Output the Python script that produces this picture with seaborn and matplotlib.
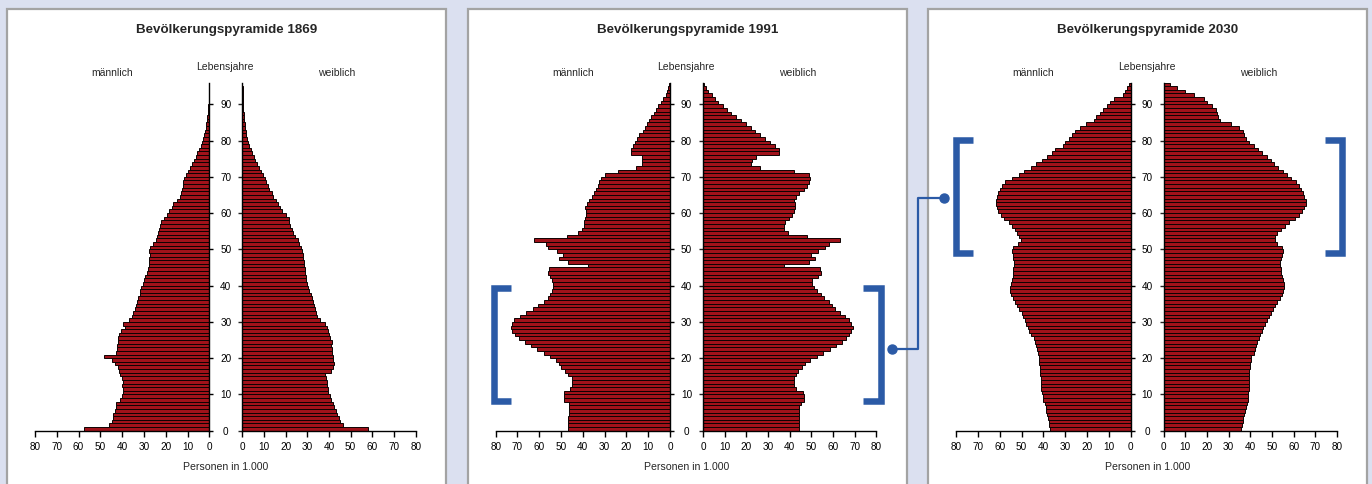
import numpy as np
import matplotlib
matplotlib.use("Agg")
import matplotlib.pyplot as plt
from matplotlib.patches import Rectangle
from matplotlib.lines import Line2D
import seaborn as sns

# Altersjahre 0..95, Werte in 1.000 Personen
ages = np.arange(96)

m1869 = [57.5, 46, 44.5, 44, 44, 43.5, 43, 43, 41, 40,
         39.5, 39.5, 40, 39.5, 40, 41, 41.5, 42, 43.5, 44.5,
         48.5, 43, 42.5, 42.5, 42, 42, 41.5, 40.5, 38.5, 39.5,
         37, 35.5, 35, 34, 33.5, 33, 32.5, 32, 32, 31.5,
         30.5, 30, 29.5, 28.5, 28, 27.5, 27.5, 27.5, 27, 27.5,
         27, 26, 24.5, 24, 23.5, 23, 22.5, 22, 21, 19.5,
         18.5, 17, 16.5, 15, 13.5, 13, 12.5, 12, 12, 11.5,
         10.5, 10, 9, 8, 7, 6, 5.5, 4.5, 4, 3.2,
         2.8, 2.4, 2, 1.6, 1.3, 1.1, 0.9, 0.7, 0.5, 0.4,
         0.3, 0.25, 0.2, 0.15, 0.1, 0.05]
f1869 = [58, 46.5, 45, 44.5, 43.5, 43, 42.5, 42, 41, 40.5,
         39.5, 39.5, 39, 39, 38.5, 38, 41, 42, 42.5, 42,
         42, 41.5, 41.5, 41, 41.5, 40.5, 40, 39.5, 39, 38,
         36, 34.5, 34, 33.5, 33, 32.5, 32, 31.5, 31, 30.5,
         30, 29.5, 29.5, 29, 29, 28.5, 28.5, 28, 28, 27.5,
         27, 26, 25.5, 24.5, 23.5, 23, 22, 21.5, 21.5, 20,
         18.5, 17.5, 16.5, 15.5, 14, 13.5, 12.5, 12, 11, 10.5,
         9.5, 8.5, 7.5, 7, 6, 5.5, 4.5, 4, 3, 2.6,
         2.2, 1.8, 1.5, 1.3, 1.1, 0.9, 0.8, 0.6, 0.5, 0.4,
         0.3, 0.25, 0.2, 0.15, 0.1, 0.05]

m1991 = [47, 47, 47, 47, 46.5, 46.5, 46.5, 46.5, 48.5, 48.5,
         48.5, 46, 45, 45, 45, 47, 48, 50, 51, 52.5,
         55, 58, 61, 64, 66.5, 69.5, 71, 72.5, 73, 72.5,
         71.5, 69, 66, 63, 60.5, 58, 56, 55, 54, 53.5,
         53.5, 54, 55, 56, 55.5, 37.5, 47, 51, 49, 52,
         56, 57, 62.5, 47.5, 42, 40.5, 39.5, 39.5, 39, 38.5,
         38.5, 39, 38, 37, 36, 35, 34, 33, 32.5, 31.5,
         30, 24, 15.5, 13, 13, 13, 18, 18, 17, 16,
         15, 14, 12.5, 11.5, 10.5, 9.5, 8.5, 7.5, 6.5, 5.5,
         4, 3, 2, 1.3, 0.7, 0.3]
f1991 = [44.5, 44.5, 44.5, 44.5, 44.5, 44.5, 44.5, 45, 46.5, 46.5,
         46, 43, 42, 42, 42, 43, 44, 45.5, 47, 49.5,
         52.5, 55.5, 58.5, 61.5, 64, 66, 67.5, 68.5, 69, 68.5,
         67.5, 65.5, 63, 61, 59.5, 58, 56, 54.5, 52.5, 51,
         50.5, 50.5, 53, 54.5, 54, 37.5, 49, 51.5, 50, 53,
         56.5, 58, 63, 48, 39, 37.5, 37.5, 38, 39.5, 41,
         42, 42.5, 42.5, 42, 43, 44.5, 46.5, 48, 49, 49.5,
         49, 42, 26.5, 22, 22.5, 24.5, 35, 35, 33, 31,
         28.5, 26.5, 24, 22, 20, 17.5, 15, 13, 11, 9,
         7, 5.5, 4, 2.5, 1.5, 0.5]

m2030 = [37, 37.5, 37.5, 38, 38.5, 39, 39, 39.5, 40, 40,
         40.5, 41, 41, 41, 41, 41.5, 41.5, 41.5, 42, 42,
         42, 42.5, 43, 43.5, 44, 44.5, 45.5, 46.5, 47, 48,
         48.5, 49.5, 50, 51, 52, 53, 54, 55, 55.5, 55.5,
         55, 54.5, 54, 54, 54, 53.5, 53.5, 54, 54, 54.5,
         54, 51.5, 50.5, 51, 52, 53, 54.5, 56, 58, 59.5,
         61, 61.5, 62, 62, 61.5, 61, 60, 59, 57.5, 54.5,
         51, 49, 45.5, 43.5, 40.5, 38.5, 36, 34.5, 31, 30,
         28.5, 27, 25.5, 23, 20.5, 17, 16, 14, 12.5, 11,
         9.5, 7.5, 3.5, 2.5, 1.5, 0.8]
f2030 = [35.5, 36, 36.5, 36.5, 37, 37.5, 38, 38.5, 39, 39,
         39, 39.5, 39.5, 39.5, 39.5, 39.5, 39.5, 40, 40, 40.5,
         40.5, 41.5, 42, 42.5, 43, 44, 44.5, 45.5, 46, 47,
         47.5, 48.5, 49.5, 50.5, 51.5, 52.5, 53.5, 54.5, 55, 55.5,
         55.5, 55, 54.5, 54, 54, 53.5, 53.5, 54, 54.5, 55,
         54.5, 52.5, 51.5, 51.5, 52.5, 54, 56, 58, 60.5, 62.5,
         64, 65, 65.5, 65.5, 65, 64.5, 63.5, 62.5, 61, 59,
         57, 55, 53, 51, 49.5, 47.5, 45.5, 43.5, 41.5, 39.5,
         38, 37, 36.5, 35, 31, 26, 25, 24.5, 24, 22.5,
         20, 18.5, 14, 10, 6, 3]

years = ["1869", "1991", "2030"]
male = [m1869, m1991, m2030]
female = [f1869, f1991, f2030]
x_ticks = [0, 10, 20, 30, 40, 50, 60, 70, 80]
age_ticks = [0, 10, 20, 30, 40, 50, 60, 70, 80, 90]

BAR = "#a0121a"
EDGE = "#0d0202"
BLUE = "#2b5aa6"

sns.set_style("ticks")
plt.rcParams["font.family"] = ["Liberation Sans", "DejaVu Sans"]

W, H = 1372, 484
fig = plt.figure(figsize=(W / 100, H / 100), dpi=100, facecolor="#dbe0f0")


def fx(x):
    return x / W


def fy(y):
    return 1 - y / H


offsets = [0, 460.7, 921.3]

for i, o in enumerate(offsets):
    # weisser Rahmen pro Pyramide
    fig.patches.append(Rectangle((fx(7 + o), fy(492)), 439 / W, 483 / H,
                                 transform=fig.transFigure, facecolor="white",
                                 edgecolor="#a3a3a3", lw=1.6, zorder=-1))

    ax_m = fig.add_axes([fx(35 + o), fy(430.7), 174.3 / W, 348.2 / H])
    ax_f = fig.add_axes([fx(242.3 + o), fy(430.7), 173.4 / W, 348.2 / H])

    for ax, vals in [(ax_m, male[i]), (ax_f, female[i])]:
        sns.barplot(x=vals, y=ages + 0.5, orient="h", native_scale=True, width=1,
                    color=BAR, saturation=1, edgecolor=EDGE, linewidth=0.7,
                    errorbar=None, ax=ax)
        ax.set_facecolor("none")
        ax.set_ylim(0, 96)
        ax.set_xticks(x_ticks)
        ax.set_xticklabels([str(t) for t in x_ticks])
        ax.set_xlabel("")
        ax.set_ylabel("")
        ax.spines["top"].set_visible(False)
        for sp in ax.spines.values():
            sp.set_linewidth(1.0)
            sp.set_color("black")
        ax.tick_params(axis="x", direction="out", length=4.3, width=1.0,
                       labelsize=7.2, pad=4, colors="black")
        ax.set_yticks(age_ticks)

    ax_m.set_xlim(80, 0)
    ax_m.spines["left"].set_visible(False)
    ax_m.yaxis.tick_right()
    ax_m.set_yticklabels([str(t) for t in age_ticks])
    ax_m.tick_params(axis="y", direction="out", length=3, width=1.0,
                     labelsize=7.2, pad=8.9, colors="black")
    for lab in ax_m.get_yticklabels():
        lab.set_horizontalalignment("center")

    ax_f.set_xlim(0, 80)
    ax_f.spines["right"].set_visible(False)
    ax_f.yaxis.tick_left()
    ax_f.set_yticklabels([])
    ax_f.tick_params(axis="y", direction="out", length=3, width=1.0)

    fig.text(fx(226.7 + o), fy(30), "Bevölkerungspyramide " + years[i],
             ha="center", va="center", fontsize=9.6, fontweight="bold")
    fig.text(fx(112 + o), fy(73), "männlich", ha="center", va="center", fontsize=7.5)
    fig.text(fx(225.3 + o), fy(67), "Lebensjahre", ha="center", va="center", fontsize=7.5)
    fig.text(fx(337 + o), fy(73), "weiblich", ha="center", va="center", fontsize=7.5)
    fig.text(fx(226 + o), fy(467), "Personen in 1.000", ha="center", va="center", fontsize=7.6)


def bracket(x_outer, x_inner, y_top, y_bot, lw=4.7):
    xs = [fx(x_inner), fx(x_outer), fx(x_outer), fx(x_inner)]
    ys = [fy(y_top), fy(y_top), fy(y_bot), fy(y_bot)]
    fig.add_artist(Line2D(xs, ys, color=BLUE, lw=lw, solid_joinstyle="miter",
                          solid_capstyle="butt", transform=fig.transFigure, zorder=5))


# Klammern 1991 (Babyboomer) und 2030
bracket(494.3, 511, 288.3, 400.7)
bracket(880.8, 863, 288.3, 400.7)
bracket(955.5, 973, 140, 252.7)
bracket(1342, 1324.7, 140, 252.7)

# Verbindungslinie
fig.add_artist(Line2D([fx(892.3), fx(918), fx(918), fx(943.7)],
                      [fy(349), fy(349), fy(197.7), fy(197.7)],
                      color=BLUE, lw=1.6, transform=fig.transFigure, zorder=5))
fig.add_artist(Line2D([fx(892.3), fx(943.7)], [fy(349), fy(197.7)], ls="none",
                      marker="o", markersize=6.5, color=BLUE,
                      transform=fig.transFigure, zorder=6))

fig.savefig("out.png", dpi=100, facecolor=fig.get_facecolor())
